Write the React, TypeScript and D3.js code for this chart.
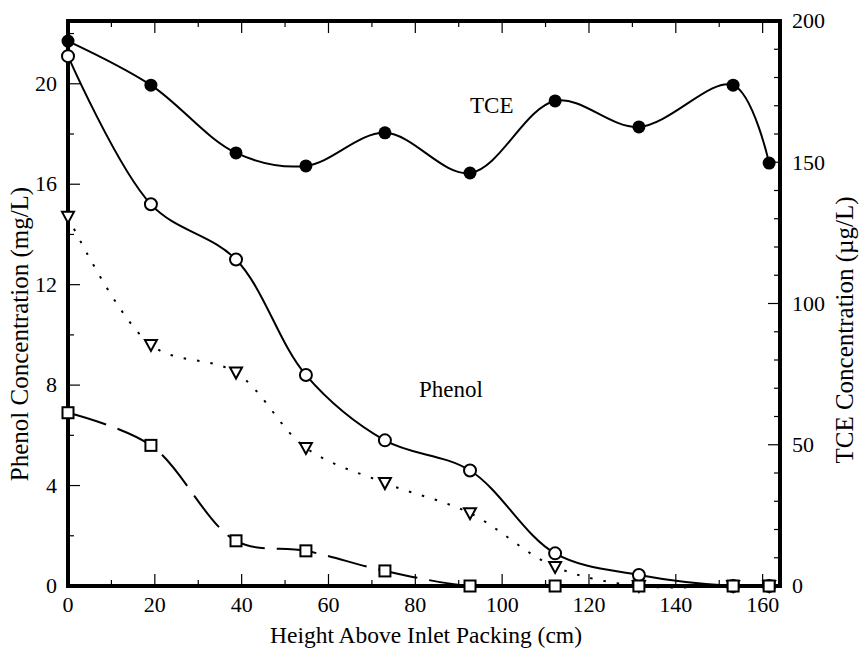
import * as d3 from "d3";

// sample heights (cm)
const heights = [0, 19.1, 38.7, 54.8, 73.0, 92.6, 112.2, 131.5, 153.2, 161.5];
// TCE, µg/L (right axis)
const tce = [192.9, 177.3, 153.3, 148.7, 160.4, 146.2, 171.7, 162.5, 177.3, 149.7];
// phenol series, mg/L (left axis)
const phenol = [21.1, 15.2, 13.0, 8.4, 5.8, 4.6, 1.3, 0.44, 0, 0];
const phenolTri = [14.7, 9.6, 8.5, 5.5, 4.1, 2.9, 0.76, 0, 0, 0];
const phenolSq = [6.9, 5.6, 1.8, 1.4, 0.6, 0, 0, 0, 0, 0];

const xTicks = [0, 20, 40, 60, 80, 100, 120, 140, 160];
const leftTicks = [0, 4, 8, 12, 16, 20];
const rightTicks = [0, 50, 100, 150, 200];

const W = 860;
const H = 654;
const left = 68, right = 780, top = 21, bottom = 586;
const font = "'Liberation Serif', 'Times New Roman', serif";

const x = d3.scaleLinear().domain([0, 164]).range([left, right]);
const yL = d3.scaleLinear().domain([0, 22.5]).range([bottom, top]);
const yR = d3.scaleLinear().domain([0, 200]).range([bottom, top]);

type P = [number, number];

export default function App() {
  const line = d3.line<P>().x(d => d[0]).y(d => d[1]).curve(d3.curveCatmullRom);
  const pts = (vals: number[], y: d3.ScaleLinear<number, number>): P[] =>
    heights.map((h, i) => [x(h), y(vals[i])]);

  const tceP = pts(tce, yR);
  const phP = pts(phenol, yL);
  const triP = pts(phenolTri, yL);
  const sqP = pts(phenolSq, yL);

  const xMinor = d3.range(0, 165, 10);
  const lMinor = d3.range(0, 22.5, 2);
  const rMinor = d3.range(0, 201, 10);

  return (
    <svg width={W} height={H} style={{ position: "absolute", left: 0, top: 0 }} fontFamily={font}>
      <rect width={W} height={H} fill="#fff" />

      {/* ticks (inward) */}
      <g stroke="#000" strokeWidth={1.2}>
        {xMinor.map(v => {
          const len = v % 20 === 0 ? 12 : 6;
          return (
            <g key={"x" + v}>
              <line x1={x(v)} x2={x(v)} y1={bottom} y2={bottom - len} />
              <line x1={x(v)} x2={x(v)} y1={top} y2={top + len} />
            </g>
          );
        })}
        {lMinor.map(v => (
          <line key={"l" + v} x1={left} x2={left + (v % 4 === 0 ? 12 : 6)} y1={yL(v)} y2={yL(v)} />
        ))}
        {rMinor.map(v => (
          <line key={"r" + v} x1={right} x2={right - (v % 50 === 0 ? 12 : 6)} y1={yR(v)} y2={yR(v)} />
        ))}
      </g>

      {/* frame */}
      <rect x={left} y={top} width={right - left} height={bottom - top} fill="none" stroke="#000" strokeWidth={4} />

      {/* tick labels */}
      <g fontSize={22} fill="#000">
        {xTicks.map(v => (
          <text key={"xt" + v} x={x(v)} y={612} textAnchor="middle">{v}</text>
        ))}
        {leftTicks.map(v => (
          <text key={"lt" + v} x={57} y={yL(v)} dy="0.33em" textAnchor="end">{v}</text>
        ))}
        {rightTicks.map(v => (
          <text key={"rt" + v} x={792} y={yR(v)} dy="0.33em" textAnchor="start">{v}</text>
        ))}
      </g>

      {/* axis titles */}
      <g fill="#000">
        <text x={426} y={643} fontSize={23.5} textAnchor="middle">Height Above Inlet Packing (cm)</text>
        <text transform="translate(28,334) rotate(-90)" fontSize={25} textAnchor="middle">Phenol Concentration (mg/L)</text>
        <text transform="translate(853,330) rotate(-90)" fontSize={25} textAnchor="middle">TCE Concentration (µg/L)</text>
      </g>

      {/* curves */}
      <g fill="none" stroke="#000" strokeWidth={2}>
        <path d={line(tceP) ?? ""} />
        <path d={line(phP) ?? ""} />
        <path d={line(triP) ?? ""} strokeDasharray="2.5 11" />
        <path d={line(sqP) ?? ""} strokeDasharray="40 12" />
      </g>

      {/* markers */}
      <g>
        {triP.map(([cx, cy], i) => (
          <path key={"t" + i} d={`M${cx - 6},${cy - 5} L${cx + 6},${cy - 5} L${cx},${cy + 6} Z`}
            fill="#fff" stroke="#000" strokeWidth={2} />
        ))}
        {phP.map(([cx, cy], i) => (
          <circle key={"o" + i} cx={cx} cy={cy} r={6} fill="#fff" stroke="#000" strokeWidth={2} />
        ))}
        {tceP.map(([cx, cy], i) => (
          <circle key={"f" + i} cx={cx} cy={cy} r={6.5} fill="#000" />
        ))}
        {sqP.map(([cx, cy], i) => (
          <rect key={"s" + i} x={cx - 5.5} y={cy - 5.5} width={11} height={11} fill="#fff" stroke="#000" strokeWidth={2} />
        ))}
      </g>

      {/* series labels */}
      <g fontSize={23} fill="#000">
        <text x={470} y={113}>TCE</text>
        <text x={419} y={397}>Phenol</text>
      </g>
    </svg>
  );
}
